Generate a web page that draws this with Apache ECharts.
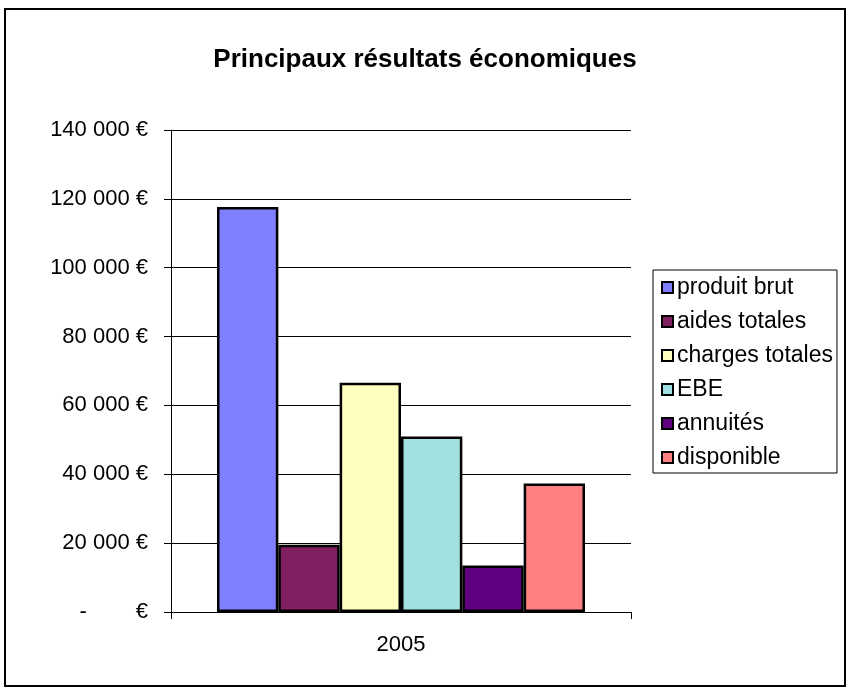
<!DOCTYPE html>
<html>
<head>
<meta charset="utf-8">
<style>
  html, body { margin: 0; padding: 0; background: #fff; }
  #chart { width: 850px; height: 691px; }
</style>
<script src="https://cdn.jsdelivr.net/npm/echarts@6/dist/echarts.min.js"></script>
</head>
<body>
<div id="chart"></div>
<script>
// Results for the year, in euros
const categories = ['2005'];
const seriesNames = ['produit brut', 'aides totales', 'charges totales', 'EBE', 'annuités', 'disponible'];
const seriesValues = [117600, 19500, 66600, 51000, 13500, 37300];
const seriesColors = ['#8080FF', '#802060', '#FFFFC0', '#A0E0E0', '#600080', '#FF8080'];
const yTicks = [0, 20000, 40000, 60000, 80000, 100000, 120000, 140000];

const FONT = 'Liberation Sans, Arial, sans-serif';

// Accounting-style euro label: zero shows as a dash
function euro(v) {
  if (v === 0) return '-' + '\u00a0'.repeat(8) + '€';
  const s = String(Math.round(v)).replace(/\B(?=(\d{3})+(?!\d))/g, '\u00a0');
  return s + '\u00a0€';
}

const chart = echarts.init(document.getElementById('chart'), null, { renderer: 'canvas' });

const series = seriesNames.map((name, i) => ({
  name: name,
  type: 'bar',
  data: [seriesValues[i]],
  barGap: '0%',
  barCategoryGap: '20%',
  itemStyle: { color: seriesColors[i], borderColor: '#000', borderWidth: 2.5 },
  emphasis: { disabled: true }
}));

chart.setOption({
  animation: false,
  backgroundColor: '#fff',
  title: {
    text: 'Principaux résultats économiques',
    left: 'center',
    top: 42,
    textStyle: { fontFamily: FONT, fontSize: 26, fontWeight: 'bold', color: '#000' }
  },
  graphic: [{
    type: 'rect',
    shape: { x: 5, y: 9, width: 840, height: 677 },
    style: { fill: 'none', stroke: '#000', lineWidth: 2 },
    silent: true
  }],
  legend: {
    orient: 'vertical',
    left: 653,
    top: 270,
    padding: [6, 4, 4, 8],
    itemGap: 11,
    itemWidth: 11,
    itemHeight: 11,
    icon: 'rect',
    borderColor: '#000',
    borderWidth: 1,
    textStyle: { fontFamily: FONT, fontSize: 23, color: '#000', lineHeight: 23, padding: [0, 0, 0, -1] },
    data: seriesNames
  },
  grid: { left: 171, right: 219, top: 130, bottom: 79 },
  xAxis: {
    type: 'category',
    data: categories,
    axisLine: { lineStyle: { color: '#000', width: 1 } },
    axisTick: { show: true, length: 7, lineStyle: { color: '#000' } },
    axisLabel: { fontFamily: FONT, fontSize: 22, color: '#000', margin: 22 }
  },
  yAxis: {
    type: 'value',
    min: 0,
    max: 140000,
    interval: 20000,
    axisLine: { show: true, lineStyle: { color: '#000', width: 1 } },
    axisTick: { show: true, length: 7, lineStyle: { color: '#000' } },
    axisLabel: { fontFamily: FONT, fontSize: 22, color: '#000', margin: 23, formatter: euro },
    splitLine: { show: true, lineStyle: { color: '#000', width: 1 } }
  },
  series: series
});
</script>
</body>
</html>
